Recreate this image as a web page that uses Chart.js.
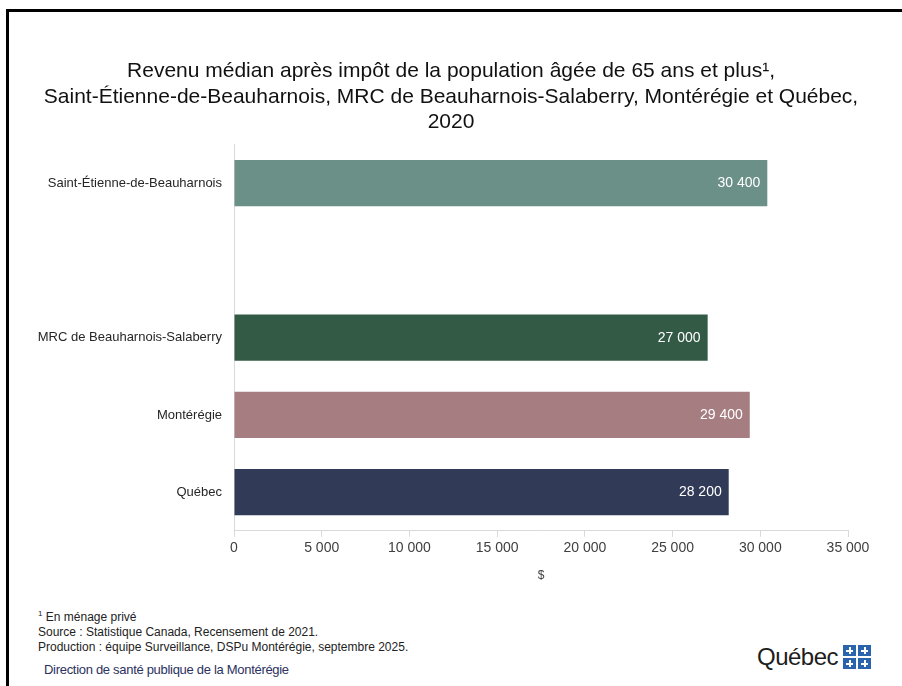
<!DOCTYPE html>
<html lang="fr">
<head>
<meta charset="utf-8">
<script src="https://cdn.jsdelivr.net/npm/chart.js@4"></script>
<style>
  html, body { margin: 0; padding: 0; background: #fff; }
  body { width: 902px; height: 686px; position: relative; overflow: hidden; font-family: "Liberation Sans", Arial, sans-serif; }
  #frame { position: absolute; left: 6px; top: 9px; right: -10px; bottom: -10px; border-left: 3px solid #000; border-top: 3px solid #000; }
  #wrap { position: absolute; left: 0; top: 0; width: 902px; height: 600px; }
  .note { position: absolute; left: 38px; font-size: 12px; color: #222; white-space: nowrap; }
  #dir { left: 44px; font-size: 13px; color: #2b3160; letter-spacing: -0.3px; }
  #logo { position: absolute; left: 757px; top: 640px; height: 34px; display: flex; align-items: center; }
  #logo span { font-size: 24px; color: #1d1d1d; letter-spacing: -0.5px; }
  #flag { display: grid; grid-template-columns: 13px 13px; grid-gap: 2px; margin-left: 5px; }
  #flag div { width: 13px; height: 11px; background:
      linear-gradient(#fff, #fff) center / 2px 7px no-repeat,
      linear-gradient(#fff, #fff) center / 7px 2px no-repeat,
      #2a64ad; }
</style>
</head>
<body>
<div id="frame"></div>
<div id="wrap"><canvas id="chart" width="902" height="600"></canvas></div>

<div class="note" style="top:609px"><sup style="font-size:8px">1</sup> En ménage privé</div>
<div class="note" style="top:625px">Source : Statistique Canada, Recensement de 2021.</div>
<div class="note" style="top:640px">Production : équipe Surveillance, DSPu Montérégie, septembre 2025.</div>
<div class="note" id="dir" style="top:662px">Direction de santé publique de la Montérégie</div>
<div id="logo"><span>Québec</span><div id="flag"><div></div><div></div><div></div><div></div></div></div>

<script>
// data
const regions = ['Saint-Étienne-de-Beauharnois', '', 'MRC de Beauharnois-Salaberry', 'Montérégie', 'Québec'];
const revenu = [30400, null, 27000, 29400, 28200];
const barColors = ['#6a9088', '#ffffff', '#335a45', '#a67d81', '#313a57'];
const xTicks = [0, 5000, 10000, 15000, 20000, 25000, 30000, 35000];

const fmt = v => String(v).replace(/\B(?=(\d{3})+(?!\d))/g, ' ');
const font = '"Liberation Sans", Arial, sans-serif';

// white value labels at the end of each bar
const barLabels = {
  id: 'barLabels',
  afterDatasetsDraw(chart) {
    const ctx = chart.ctx;
    const meta = chart.getDatasetMeta(0);
    ctx.save();
    ctx.font = '14px ' + font;
    ctx.fillStyle = '#ffffff';
    ctx.textAlign = 'right';
    ctx.textBaseline = 'middle';
    meta.data.forEach((bar, i) => {
      if (revenu[i] == null) return;
      ctx.fillText(fmt(revenu[i]), bar.x - 7, bar.y);
    });
    ctx.restore();
  }
};

new Chart(document.getElementById('chart').getContext('2d'), {
  type: 'bar',
  data: {
    labels: regions,
    datasets: [{
      data: revenu,
      backgroundColor: barColors,
      borderWidth: 0,
      categoryPercentage: 1,
      barPercentage: 0.6
    }]
  },
  options: {
    indexAxis: 'y',
    responsive: false,
    animation: false,
    layout: { padding: { top: 0, right: 0, bottom: 17, left: 0 } },
    plugins: {
      legend: { display: false },
      tooltip: { enabled: false },
      title: {
        display: true,
        text: [
          'Revenu médian après impôt de la population âgée de 65 ans et plus¹,',
          'Saint-Étienne-de-Beauharnois, MRC de Beauharnois-Salaberry, Montérégie et Québec,',
          '2020'
        ],
        color: '#111',
        font: { family: font, size: 21, weight: 'normal', lineHeight: 1.215 },
        padding: { top: 58.5, bottom: 9.5 }
      }
    },
    scales: {
      x: {
        min: 0,
        max: 35000,
        afterBuildTicks: axis => { axis.ticks = xTicks.map(v => ({ value: v })); },
        ticks: {
          color: '#404040',
          font: { family: font, size: 14 },
          padding: 3,
          maxRotation: 0,
          callback: v => fmt(v)
        },
        grid: { drawOnChartArea: false, drawTicks: true, tickLength: 6, color: '#d9d9d9' },
        border: { display: true, color: '#d9d9d9' },
        title: {
          display: true,
          text: '$',
          color: '#404040',
          font: { family: font, size: 12 },
          padding: { top: 9, bottom: 0 }
        }
      },
      y: {
        afterFit: axis => { axis.width = 234; },
        ticks: {
          color: '#262626',
          font: { family: font, size: 13 },
          padding: 12
        },
        grid: { drawOnChartArea: false, drawTicks: false },
        border: { display: true, color: '#d9d9d9' }
      },
      // empty right margin so the title stays centred on the page
      yRight: {
        type: 'category',
        position: 'right',
        afterFit: axis => { axis.width = 54; },
        ticks: { display: false },
        grid: { display: false },
        border: { display: false }
      }
    }
  },
  plugins: [barLabels]
});
</script>
</body>
</html>
